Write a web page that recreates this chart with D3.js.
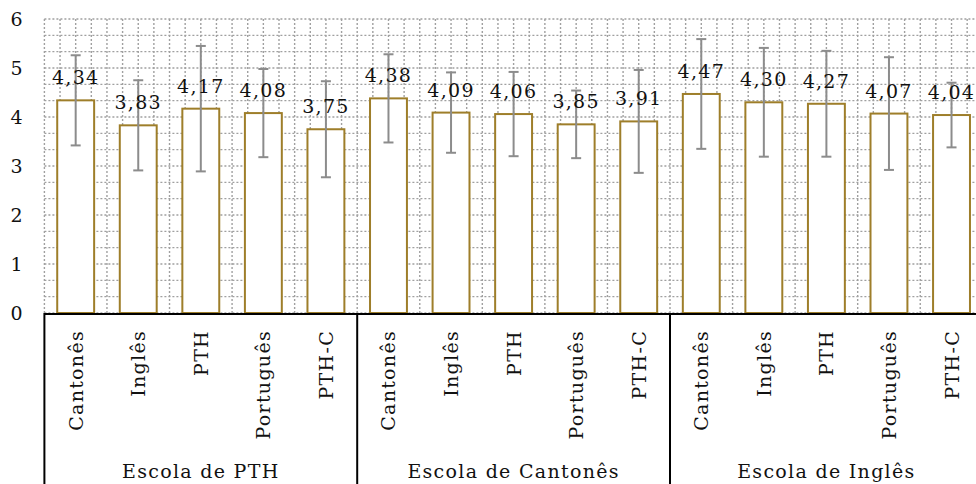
<!DOCTYPE html>
<html>
<head>
<meta charset="utf-8">
<script src="https://cdn.jsdelivr.net/npm/d3@7"></script>
<style>
  body { margin: 0; background: #fff; }
  svg { display: block; }
  text { font-family: "DejaVu Serif", serif; fill: #111; letter-spacing: 1.3px; }
  .grid line { stroke: #a0a0a0; stroke-width: 1.4; stroke-dasharray: 2,2; }
  .bar { fill: #fff; stroke: #9e7e2a; stroke-width: 2; }
  .err line { stroke: #8c8c8c; stroke-width: 2; }
</style>
</head>
<body>
<div id="chart"></div>
<script>
// chart data
var groups = ["Escola de PTH", "Escola de Cantonês", "Escola de Inglês"];
var languages = ["Cantonês", "Inglês", "PTH", "Português", "PTH-C"];
var means = [4.34, 3.83, 4.17, 4.08, 3.75,
             4.38, 4.09, 4.06, 3.85, 3.91,
             4.47, 4.30, 4.27, 4.07, 4.04];
var sds   = [0.92, 0.92, 1.28, 0.90, 0.98,
             0.90, 0.82, 0.86, 0.69, 1.05,
             1.12, 1.11, 1.08, 1.15, 0.66];
var yTicks = [0, 1, 2, 3, 4, 5, 6];

var width = 976, height = 484;
var margin = { left: 44.4, right: 982.8, top: 19, bottom: 313 };

var data = [];
groups.forEach(function(g, gi) {
  languages.forEach(function(l, li) {
    var i = gi * languages.length + li;
    data.push({ i: i, group: g, lang: l, mean: means[i], sd: sds[i] });
  });
});

var svg = d3.select("#chart").append("svg")
  .attr("width", width).attr("height", height);

var x = d3.scaleBand()
  .domain(data.map(function(d) { return d.i; }))
  .range([margin.left, margin.right])
  .paddingInner(0.41)
  .paddingOuter(0.205);

var y = d3.scaleLinear().domain([0, 6]).range([margin.bottom, margin.top]);

var step = x.step();

// dotted grid, horizontal every 1/3, vertical every quarter category
var grid = svg.append("g").attr("class", "grid");
grid.selectAll("line.h")
  .data(d3.range(0, 19).map(function(k) { return k / 3; }))
  .enter().append("line")
  .attr("class", "h")
  .attr("x1", margin.left).attr("x2", width)
  .attr("y1", function(d) { return y(d); })
  .attr("y2", function(d) { return y(d); });
grid.selectAll("line.v")
  .data(d3.range(0, data.length * 4 + 1))
  .enter().append("line")
  .attr("class", "v")
  .attr("x1", function(k) { return margin.left + k * step / 4; })
  .attr("x2", function(k) { return margin.left + k * step / 4; })
  .attr("y1", y(6)).attr("y2", y(0));

// bars
svg.append("g").selectAll("rect")
  .data(data)
  .enter().append("rect")
  .attr("class", "bar")
  .attr("x", function(d) { return x(d.i); })
  .attr("width", x.bandwidth())
  .attr("y", function(d) { return y(d.mean); })
  .attr("height", function(d) { return y(0) - y(d.mean); });

// error bars
var err = svg.append("g").attr("class", "err").selectAll("g")
  .data(data)
  .enter().append("g")
  .attr("transform", function(d) { return "translate(" + (x(d.i) + x.bandwidth() / 2) + ",0)"; });
err.append("line")
  .attr("y1", function(d) { return y(d.mean + d.sd); })
  .attr("y2", function(d) { return y(d.mean - d.sd); });
err.append("line")
  .attr("x1", -5).attr("x2", 5)
  .attr("y1", function(d) { return y(d.mean + d.sd); })
  .attr("y2", function(d) { return y(d.mean + d.sd); });
err.append("line")
  .attr("x1", -5).attr("x2", 5)
  .attr("y1", function(d) { return y(d.mean - d.sd); })
  .attr("y2", function(d) { return y(d.mean - d.sd); });

// value labels
var fmt = function(v) { return v.toFixed(2).replace(".", ","); };
svg.append("g").selectAll("text")
  .data(data)
  .enter().append("text")
  .attr("x", function(d) { return x(d.i) + x.bandwidth() / 2; })
  .attr("y", function(d) { return y(d.mean) - 16; })
  .attr("text-anchor", "middle")
  .style("font-size", "19px")
  .text(function(d) { return fmt(d.mean); });

// y axis
var yAxis = svg.append("g")
  .attr("transform", "translate(24,0)")
  .call(d3.axisLeft(y).tickValues(yTicks).tickFormat(d3.format("d")).tickSize(0).tickPadding(0));
yAxis.select(".domain").remove();
yAxis.selectAll("text")
  .style("font-family", "DejaVu Serif, serif")
  .style("font-size", "19px")
  .attr("fill", "#111");

// x axis line and group separators
svg.append("line")
  .attr("x1", margin.left).attr("x2", width)
  .attr("y1", y(0) + 1).attr("y2", y(0) + 1)
  .attr("stroke", "#000").attr("stroke-width", 2);

var seps = d3.range(0, groups.length).map(function(gi) { return margin.left + gi * languages.length * step; });
svg.append("g").selectAll("line")
  .data(seps)
  .enter().append("line")
  .attr("x1", function(d) { return d; }).attr("x2", function(d) { return d; })
  .attr("y1", y(0)).attr("y2", height)
  .attr("stroke", "#000").attr("stroke-width", 2);

// category labels (rotated)
svg.append("g").selectAll("text")
  .data(data)
  .enter().append("text")
  .attr("transform", function(d) {
    return "translate(" + (x(d.i) + x.bandwidth() / 2 + 7) + ",330) rotate(-90)";
  })
  .attr("text-anchor", "end")
  .style("font-size", "19px")
  .text(function(d) { return d.lang; });

// group labels
svg.append("g").selectAll("text")
  .data(groups)
  .enter().append("text")
  .attr("x", function(d, gi) { return margin.left + (gi + 0.5) * languages.length * step; })
  .attr("y", 478)
  .attr("text-anchor", "middle")
  .style("font-size", "19px")
  .text(function(d) { return d; });
</script>
</body>
</html>
